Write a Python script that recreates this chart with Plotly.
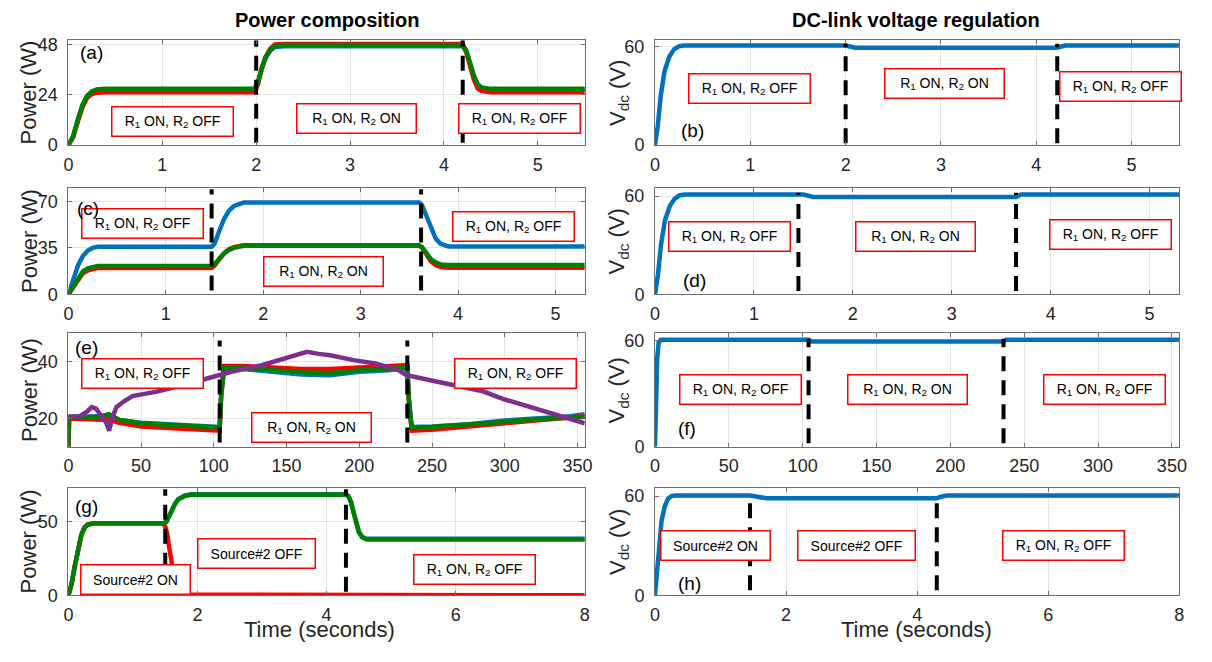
import plotly.graph_objects as go

FONT = "Liberation Sans, Arial, Helvetica, sans-serif"
BLUE = "#0072BD"
RED = "#FF0000"
GREEN = "#008000"
PURPLE = "#7E2F8E"

R1OFF = "R<sub>1</sub> ON, R<sub>2</sub> OFF"
R1ON = "R<sub>1</sub> ON, R<sub>2</sub> ON"
S2ON = "Source#2 ON"
S2OFF = "Source#2 OFF"

# ---------------- (a) power composition, test 1 ----------------
a_t = [0, 0.05, 0.1, 0.15, 0.2, 0.25, 0.3, 0.4, 1.98, 2.02, 2.06, 2.1, 2.15, 2.2, 2.3,
       4.2, 4.24, 4.28, 4.32, 4.36, 4.4, 4.5, 5.5]
a_blue = [0, 4, 12, 19, 23.5, 25.5, 26.3, 26.5, 26.5, 30, 36.5, 41.5, 45, 46.8, 47.2,
          47.2, 44.5, 38.5, 32.5, 28.5, 27, 26.5, 26.5]
a_red = [0, 3.5, 11, 18, 22.5, 24.3, 25, 25.2, 25.2, 29, 36.5, 42, 46, 48, 48.3,
         48.3, 44, 37, 31, 27, 25.8, 25.2, 25.2]
a_green = [0, 4, 12, 19, 23.5, 25.5, 26.5, 26.8, 26.8, 30, 37, 42, 45.5, 47.3, 47.8,
           47.8, 45, 39, 33, 29, 27.5, 26.8, 26.8]
a_events = [2.0, 4.2]
a_dash = [1, 50]
a_labels = [R1OFF, R1ON, R1OFF]

# ---------------- (b) DC-link voltage, test 1 ----------------
b_t = [0, 0.03, 0.06, 0.1, 0.15, 0.2, 0.25, 0.3, 2.0, 2.05, 2.1, 4.22, 4.26, 4.3, 5.5]
b_v = [0, 12, 30, 45, 54, 58.5, 60.3, 60.8, 60.8, 60, 59.5, 59.5, 60.3, 60.8, 60.8]
b_events = [2.0, 4.22]
b_dash = [1, 62]
b_labels = [R1OFF, R1ON, R1OFF]

# ---------------- (c) power composition, test 2 ----------------
c_t = [0, 0.05, 0.1, 0.15, 0.2, 0.25, 0.3, 1.47, 1.5, 1.55, 1.6, 1.65, 1.7, 1.8,
       3.6, 3.63, 3.67, 3.72, 3.77, 3.82, 3.9, 5.3]
c_blue = [0, 10, 22, 29, 33, 35, 35.8, 35.8, 38, 48, 57, 63, 66.5, 69,
          69, 67, 60, 50, 42, 38, 36, 36]
c_red = [0, 5.5, 12, 16, 18, 19, 19.8, 19.8, 21.5, 26.5, 31, 34, 35.5, 37,
         37, 35, 30, 25, 22, 20.5, 20, 20]
c_green = [0, 6, 13, 17.5, 19.5, 20.5, 21.3, 21.3, 22.5, 27, 31, 33.5, 35, 36.5,
           36.5, 35.5, 31, 26.5, 24, 22.5, 22, 22]
c_events = [1.47, 3.62]
c_dash = [3, 79]
c_labels = [R1OFF, R1ON, R1OFF]

# ---------------- (d) DC-link voltage, test 2 ----------------
d_t = [0, 0.03, 0.06, 0.1, 0.15, 0.2, 0.25, 0.3, 1.5, 1.55, 1.6, 3.65, 3.7, 5.3]
d_v = [0, 12, 30, 45, 54, 58.5, 60.5, 61, 61, 60.5, 59.5, 59.5, 61, 61]
d_events = [1.45, 3.65]
d_dash = [2, 62]
d_labels = [R1OFF, R1ON, R1OFF]

# ---------------- (e) power composition, test 3 ----------------
e_t = [0, 0.5, 10, 20, 28, 35, 50, 75, 100, 104, 105, 107, 120, 140, 160, 180, 200,
       220, 232, 233, 234, 236, 250, 275, 300, 325, 345, 355]
e_blue = [10, 20.5, 20.5, 20.8, 21, 19.5, 18.5, 17.8, 17, 17, 28, 37.5, 37.5, 36.5,
          35.5, 35.3, 36.5, 37, 37.8, 37.8, 27, 17, 17.2, 18, 19.3, 20, 20.8, 21.5]
e_red = [10, 20, 19.8, 19.5, 19.5, 18.5, 17.2, 16.5, 15.7, 15.7, 28, 38.5, 38.5, 38,
         37.5, 37.5, 38, 38.3, 38.8, 38.8, 27, 15.7, 16, 17, 18.3, 19.5, 20.2, 20.8]
e_green = [10, 20.5, 20.5, 20.5, 21.5, 19.5, 18.2, 17.5, 16.8, 16.8, 28, 37.8, 37.8, 37,
           36.3, 36, 37, 37.5, 38.3, 38.3, 27, 16.8, 17, 17.8, 18.8, 19.8, 20.3, 20.5]
e_pt = [0, 8, 13, 16, 19, 23, 26, 28, 30, 33, 38, 44, 60, 80, 96, 112, 133, 149, 164,
        172, 180, 196, 211, 227, 232, 248, 269, 285, 300, 311, 321, 334, 345, 350, 355]
e_purple = [20.6, 20.8, 22.5, 24, 23.5, 21, 18.5, 15.7, 20, 24, 26, 27.9, 29.4, 31.9,
            34.2, 36.5, 38.8, 41.2, 43.5, 42.8, 42.3, 40.6, 39.4, 37.1, 35.4, 33.6,
            31.3, 29.6, 26.7, 25, 23.8, 21.5, 19.8, 19, 18.3]
e_events = [104, 233]
e_dash = [11.5, 47.5]
e_labels = [R1OFF, R1ON, R1OFF]

# ---------------- (f) DC-link voltage, test 3 ----------------
f_t = [0, 0.5, 1.5, 2.5, 4, 104, 106, 236, 238, 355]
f_v = [0, 20, 50, 59, 60.5, 60.5, 59.5, 59.5, 60.5, 60.5]
f_events = [104, 236]
f_dash = [2, 61]
f_labels = [R1OFF, R1ON, R1OFF]

# ---------------- (g) power composition, test 4 ----------------
g_t = [0, 0.05, 0.1, 0.15, 0.2, 0.25, 0.3, 0.4, 1.48, 1.52, 1.56, 1.6, 1.65, 1.7, 1.8,
       1.9, 4.3, 4.34, 4.38, 4.42, 4.46, 4.5, 4.55, 4.62, 8]
g_blue = [0, 8, 20, 32, 41, 46, 48, 49, 49, 50, 54, 58, 62, 65.3, 67.8, 68.7,
          68.7, 67.3, 63.3, 56.3, 49.3, 43.3, 39.8, 38.4, 38.4]
g_green = [0, 8, 20, 32, 41, 46, 48, 49, 49, 50, 54, 58, 62, 65, 67.5, 68.3,
           68.3, 67, 63, 56, 49, 43, 39.5, 38, 38]
g_rt = [0, 0.05, 0.1, 0.15, 0.2, 0.25, 0.3, 0.4, 1.45, 1.5, 1.53, 1.56, 1.6, 1.64,
        1.68, 1.72, 1.8, 8]
g_red = [0, 8, 20, 32, 41, 46, 48, 49, 49, 47, 42, 33, 22, 12, 6, 2.5, 0.5, 0]
g_events = [1.5, 4.3]
g_dash = [2.5, 72]
g_labels = [S2ON, S2OFF, R1OFF]

# ---------------- (h) DC-link voltage, test 4 ----------------
h_t = [0, 0.03, 0.06, 0.1, 0.15, 0.2, 0.25, 0.3, 1.45, 1.5, 1.6, 1.7, 4.3, 4.35, 4.45, 8]
h_v = [0, 12, 30, 45, 54, 58.5, 60, 60.3, 60.3, 60, 59, 58.7, 58.7, 59.5, 60.3, 60.3]
h_events = [1.45, 4.3]
h_dash = [3, 61]
h_labels = [S2ON, S2OFF, R1OFF]

# ---------------- layout geometry (window pixels) ----------------
# The page body has an 8 px margin, so the figure is shrunk and shifted by it.
OFF = 8
W, H = 1212 - OFF, 662 - OFF
COLS = [(64, 586), (657, 1187)]
ROWS = [(36, 143), (187, 296), (336, 452), (494, 604)]


def px_x(x):
    return (x - OFF) / W


def px_y(y):
    return 1 - (y - OFF) / H


panels = [
    dict(tag="(a)", col=0, row=0, xr=[0, 5.5], yr=[0, 50], xt=[0, 1, 2, 3, 4, 5], yt=[0, 24, 48],
         series=[(a_t, a_blue, BLUE), (a_t, a_red, RED), (a_t, a_green, GREEN)],
         events=a_events, dash=a_dash, labels=a_labels,
         lpos=[(0.202, 0.222), (0.557, 0.25), (0.873, 0.25)], tpos=(0.044, 0.88)),
    dict(tag="(b)", col=1, row=0, xr=[0, 5.5], yr=[0, 64], xt=[0, 1, 2, 3, 4, 5], yt=[0, 60],
         series=[(b_t, b_v, BLUE)],
         events=b_events, dash=b_dash, labels=b_labels,
         lpos=[(0.181, 0.537), (0.553, 0.583), (0.887, 0.556)], tpos=(0.072, 0.14)),
    dict(tag="(c)", col=0, row=1, xr=[0, 5.3], yr=[0, 80], xt=[0, 1, 2, 3, 4, 5], yt=[0, 35, 70],
         series=[(c_t, c_blue, BLUE), (c_t, c_red, RED), (c_t, c_green, GREEN)],
         events=c_events, dash=c_dash, labels=c_labels,
         lpos=[(0.144, 0.661), (0.495, 0.211), (0.862, 0.633)], tpos=(0.038, 0.807)),
    dict(tag="(d)", col=1, row=1, xr=[0, 5.3], yr=[0, 65], xt=[0, 1, 2, 3, 4, 5], yt=[0, 60],
         series=[(d_t, d_v, BLUE)],
         events=d_events, dash=d_dash, labels=d_labels,
         lpos=[(0.143, 0.541), (0.496, 0.541), (0.868, 0.56)], tpos=(0.075, 0.128)),
    dict(tag="(e)", col=0, row=2, xr=[0, 355], yr=[10, 50], xt=[0, 50, 100, 150, 200, 250, 300, 350],
         yt=[20, 40],
         series=[(e_t, e_blue, BLUE), (e_t, e_red, RED), (e_t, e_green, GREEN), (e_pt, e_purple, PURPLE)],
         events=e_events, dash=e_dash, labels=e_labels,
         lpos=[(0.144, 0.647), (0.47, 0.172), (0.866, 0.647)], tpos=(0.035, 0.88)),
    dict(tag="(f)", col=1, row=2, xr=[0, 355], yr=[0, 64], xt=[0, 50, 100, 150, 200, 250, 300, 350],
         yt=[0, 60],
         series=[(f_t, f_v, BLUE)],
         events=f_events, dash=f_dash, labels=f_labels,
         lpos=[(0.164, 0.509), (0.481, 0.509), (0.858, 0.509)], tpos=(0.062, 0.164)),
    dict(tag="(g)", col=0, row=3, xr=[0, 8], yr=[0, 73], xt=[0, 2, 4, 6, 8], yt=[0, 50],
         series=[(g_t, g_blue, BLUE), (g_rt, g_red, RED), (g_t, g_green, GREEN)],
         events=g_events, dash=g_dash, labels=g_labels,
         lpos=[(0.13, 0.145), (0.365, 0.39), (0.787, 0.236)], tpos=(0.035, 0.827)),
    dict(tag="(h)", col=1, row=3, xr=[0, 8], yr=[0, 65], xt=[0, 2, 4, 6, 8], yt=[0, 60],
         series=[(h_t, h_v, BLUE)],
         events=h_events, dash=h_dash, labels=h_labels,
         lpos=[(0.115, 0.464), (0.385, 0.464), (0.779, 0.464)], tpos=(0.066, 0.11)),
]

LABEL_W = {R1OFF: 116, R1ON: 114, S2ON: 104, S2OFF: 112}

fig = go.Figure()
layout = dict(
    width=W, height=H, margin=dict(l=0, r=0, t=0, b=0),
    paper_bgcolor="white", plot_bgcolor="white", showlegend=False,
    font=dict(family=FONT, color="#262626"),
)
annotations = []

axis_common = dict(
    showgrid=True, gridcolor="#e4e4e4", gridwidth=1, zeroline=False,
    showline=True, mirror="ticks", linecolor="#6e6e6e", linewidth=1,
    ticks="inside", ticklen=4, tickcolor="#6e6e6e", tickwidth=1,
    tickfont=dict(family=FONT, size=18, color="#262626"),
    fixedrange=True,
)

for i, p in enumerate(panels, start=1):
    xl, xr = COLS[p["col"]]
    yt_, yb_ = ROWS[p["row"]]
    xname = "x" if i == 1 else f"x{i}"
    yname = "y" if i == 1 else f"y{i}"
    layout["xaxis" if i == 1 else f"xaxis{i}"] = dict(
        axis_common, domain=[px_x(xl), px_x(xr)], range=p["xr"], tickvals=p["xt"],
        anchor=yname, ticklabelstandoff=3)
    layout["yaxis" if i == 1 else f"yaxis{i}"] = dict(
        axis_common, domain=[px_y(yb_), px_y(yt_)], range=p["yr"], tickvals=p["yt"],
        anchor=xname, ticklabelstandoff=6)

    for (t, v, c) in p["series"]:
        fig.add_trace(go.Scatter(x=t, y=v, mode="lines", line=dict(color=c, width=4.5),
                                 xaxis=xname, yaxis=yname, hoverinfo="skip"))
    for ev in p["events"]:
        fig.add_trace(go.Scatter(x=[ev, ev], y=p["dash"], mode="lines",
                                 line=dict(color="black", width=4, dash="15px,9px"),
                                 xaxis=xname, yaxis=yname, hoverinfo="skip"))

    xdom = f"{xname} domain"
    ydom = f"{yname} domain"
    for lab, (fx, fy) in zip(p["labels"], p["lpos"]):
        annotations.append(dict(
            text=lab, x=fx, y=fy, xref=xdom, yref=ydom, showarrow=False,
            xanchor="center", yanchor="middle",
            font=dict(family=FONT, size=14, color="black"),
            bgcolor="white", bordercolor="#FF0000", borderwidth=1.5, borderpad=2,
            width=LABEL_W[lab], height=24, align="center"))
    annotations.append(dict(
        text=p["tag"], x=p["tpos"][0], y=p["tpos"][1], xref=xdom, yref=ydom,
        showarrow=False, xanchor="center", yanchor="middle",
        font=dict(family=FONT, size=19, color="black")))

# column titles
annotations.append(dict(text="<b>Power composition</b>", x=px_x(325), y=px_y(15),
                        xref="paper", yref="paper", showarrow=False,
                        xanchor="center", yanchor="middle",
                        font=dict(family=FONT, size=20, color="black")))
annotations.append(dict(text="<b>DC-link voltage regulation</b>", x=px_x(921), y=px_y(15),
                        xref="paper", yref="paper", showarrow=False,
                        xanchor="center", yanchor="middle",
                        font=dict(family=FONT, size=20, color="black")))

# axis titles
for (t_, b_) in ROWS:
    yc = px_y((t_ + b_) / 2)
    annotations.append(dict(text="Power (W)", x=px_x(24), y=yc, xref="paper", yref="paper",
                            showarrow=False, textangle=-90, xanchor="center", yanchor="middle",
                            font=dict(family=FONT, size=22, color="#262626")))
    annotations.append(dict(text="V<sub>dc</sub> (V)", x=px_x(620), y=yc, xref="paper", yref="paper",
                            showarrow=False, textangle=-90, xanchor="center", yanchor="middle",
                            font=dict(family=FONT, size=22, color="#262626")))
for xc in (318, 921):
    annotations.append(dict(text="Time (seconds)", x=px_x(xc), y=px_y(639), xref="paper",
                            yref="paper", showarrow=False, xanchor="center", yanchor="middle",
                            font=dict(family=FONT, size=22, color="#262626")))

layout["annotations"] = annotations
fig.update_layout(**layout)
fig.write_html("out.html")
